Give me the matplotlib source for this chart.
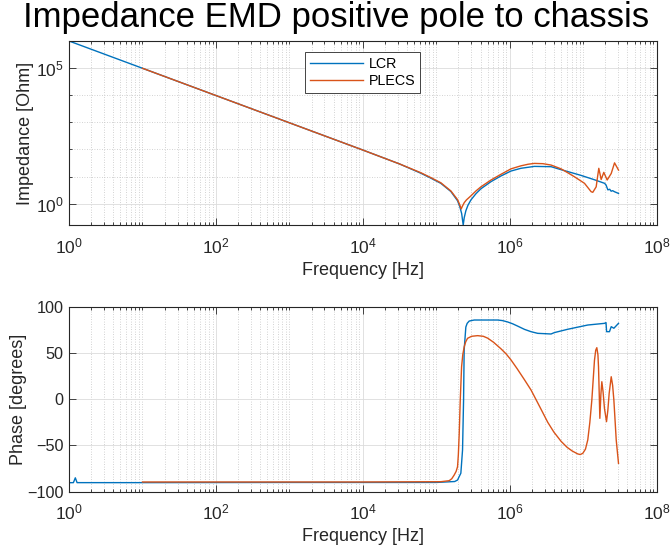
import numpy as np
import matplotlib
matplotlib.use("Agg")
import matplotlib.pyplot as plt
from matplotlib.ticker import FixedLocator, LogLocator, NullFormatter, FuncFormatter

plt.rcParams['font.family'] = ['Liberation Sans', 'DejaVu Sans']
plt.rcParams['mathtext.fontset'] = 'custom'
plt.rcParams['mathtext.rm'] = 'Liberation Sans'
plt.rcParams['mathtext.it'] = 'Liberation Sans'

# ---------------- measured data ----------------
# LCR meter: impedance magnitude
lcr_mag_freq = [1.0, 10.0, 100.0, 1e3, 1e4, 3.16e4, 6.15e4, 8.41e4, 1.151e5, 1.578e5,
                1.945e5, 2.089e5, 2.213e5, 2.323e5, 2.399e5, 2.523e5, 2.692e5, 2.958e5,
                3.467e5, 4.046e5, 5.546e5, 7.586e5, 1.038e6, 1.413e6, 2.163e6, 3.648e6,
                4.989e6, 6.152e6, 9.354e6, 1.422e7, 1.950e7, 2.042e7, 2.163e7, 2.291e7,
                2.399e7, 2.512e7, 2.667e7, 3.020e7]
lcr_mag = [9.55e5, 9.55e4, 9.55e3, 955, 95.5, 29.5, 13.5, 8.91, 5.75, 2.88,
           1.32, 0.794, 0.447, 0.170, 0.316, 0.562, 0.891, 1.413,
           2.399, 3.63, 6.61, 10.7, 16.2, 20.4, 24.0, 23.4,
           18.2, 15.5, 11.2, 7.76, 5.75, 5.01, 3.31, 3.47,
           2.95, 3.09, 2.82, 2.45]

# PLECS simulation: impedance magnitude
plecs_mag_freq = [10.0, 100.0, 1e3, 1e4, 3.16e4, 6.15e4, 8.41e4, 1.151e5, 1.578e5,
                  1.945e5, 2.065e5, 2.183e5, 2.265e5, 2.399e5, 2.570e5, 2.958e5,
                  3.467e5, 4.046e5, 5.546e5, 7.586e5, 1.038e6, 1.413e6, 1.778e6,
                  2.163e6, 2.818e6, 3.648e6, 4.989e6, 6.310e6, 7.586e6, 1.040e7,
                  1.282e7, 1.349e7, 1.500e7, 1.567e7, 1.629e7, 1.754e7, 1.905e7,
                  2.118e7, 2.404e7, 2.667e7, 3.020e7]
plecs_mag = [9.55e4, 9.55e3, 955, 95.5, 29.5, 14.1, 9.33, 6.03, 3.02,
             1.45, 1.0, 0.661, 0.832, 1.122, 1.413, 1.995,
             3.02, 4.27, 7.59, 12.3, 19.5, 25.1, 28.8,
             30.9, 30.2, 26.9, 19.5, 13.5, 10.0, 5.75,
             2.82, 2.69, 4.27, 10.0, 20.4, 7.94, 14.5,
             7.59, 13.2, 32.4, 17.6]

# LCR meter: phase
lcr_ph_freq = [1.0, 1.148, 1.219, 1.288, 10.0, 1e3, 1e5, 1.778e5, 1.945e5, 2.158e5,
               2.275e5, 2.350e5, 2.393e5, 2.523e5, 2.630e5, 2.805e5, 3.281e5, 6.839e5,
               7.943e5, 9.354e5, 1.096e6, 1.282e6, 1.585e6, 1.945e6, 2.399e6, 3.648e6,
               4.046e6, 6.152e6, 1.153e7, 1.945e7, 2.042e7, 2.080e7, 2.275e7, 2.404e7,
               2.612e7, 3.020e7]
lcr_ph = [-90.3, -90.2, -85.0, -90.2, -90.2, -90.0, -90.0, -89.0, -87.4, -80.0,
          -55.0, -1.0, 53.0, 78.0, 82.0, 84.5, 85.6, 85.6,
          85.0, 83.5, 81.5, 79.0, 75.5, 73.0, 71.2, 70.5,
          72.0, 75.6, 80.2, 82.0, 82.8, 73.0, 73.0, 78.4,
          76.7, 82.0]

# PLECS simulation: phase
plecs_ph_freq = [10.0, 1e4, 1.151e5, 1.496e5, 1.622e5, 1.750e5, 1.862e5, 1.945e5,
                 1.995e5, 2.051e5, 2.118e5, 2.208e5, 2.291e5, 2.399e5, 2.512e5,
                 2.661e5, 3.020e5, 3.648e5, 4.365e5, 5.000e5, 6.026e5, 7.586e5,
                 8.913e5, 1.038e6, 1.259e6, 1.585e6, 1.945e6, 2.163e6, 2.630e6,
                 3.289e6, 3.981e6, 4.989e6, 6.026e6, 7.079e6, 8.433e6, 9.120e6,
                 9.863e6, 1.072e7, 1.153e7, 1.230e7, 1.309e7, 1.422e7, 1.479e7,
                 1.531e7, 1.585e7, 1.614e7, 1.652e7, 1.683e7, 1.738e7, 1.791e7,
                 1.862e7, 1.945e7, 2.075e7, 2.163e7, 2.254e7, 2.404e7, 2.512e7,
                 2.612e7, 2.812e7, 3.020e7]
plecs_ph = [-89.5, -89.5, -89.2, -88.1, -86.0, -82.0, -78.0, -73.0,
            -60.0, -37.0, -1.0, 35.0, 48.0, 56.8, 62.0,
            65.8, 68.0, 68.7, 68.0, 66.0, 61.5, 54.5,
            49.0, 42.5, 33.0, 21.0, 10.0, 3.0, -10.0,
            -25.0, -35.5, -45.5, -52.0, -56.0, -59.2, -59.8,
            -58.5, -54.0, -44.0, -25.0, -1.0, 42.0, 53.0,
            55.7, 48.0, 35.0, 5.0, -20.7, 5.0, 18.9,
            8.0, -10.0, -24.3, -12.0, 6.3, 24.3, 15.0,
            -1.0, -44.1, -69.3]

series_names = ['LCR', 'PLECS']
blue = '#0072BD'
orange = '#D95319'
ink = '#262626'

fig = plt.figure(figsize=(6.72, 5.5), dpi=100)
W, H = 672.0, 550.0
ax1 = fig.add_axes([69 / W, 1 - 225 / H, 587.7 / W, 184 / H])
ax2 = fig.add_axes([69 / W, 1 - 491.7 / H, 587.7 / W, 185 / H])

ax1.loglog(lcr_mag_freq, lcr_mag, color=blue, lw=1.0, label=series_names[0])
ax1.loglog(plecs_mag_freq, plecs_mag, color=orange, lw=1.0, label=series_names[1])
ax2.semilogx(lcr_ph_freq, lcr_ph, color=blue, lw=1.0)
ax2.semilogx(plecs_ph_freq, plecs_ph, color=orange, lw=1.0)

def pow10(v, pos):
    return r'$10^{%d}$' % int(round(np.log10(v)))

for ax in (ax1, ax2):
    ax.set_xlim(1, 1e8)
    ax.xaxis.set_major_locator(FixedLocator([1e0, 1e2, 1e4, 1e6, 1e8]))
    ax.xaxis.set_major_formatter(FuncFormatter(pow10))
    ax.xaxis.set_minor_locator(LogLocator(base=10, subs=np.arange(1, 10), numticks=100))
    ax.xaxis.set_minor_formatter(NullFormatter())
    ax.grid(True, which='major', color='#dcdcdc', lw=0.6, ls='-')
    ax.grid(True, which='minor', axis='x', color='#c4c4c4', lw=0.6, ls=(0, (1, 2)))
    ax.set_axisbelow(True)
    for s in ax.spines.values():
        s.set_color(ink)
        s.set_linewidth(0.8)
    ax.tick_params(which='both', direction='in', top=True, right=True, color=ink,
                   labelcolor=ink, width=0.6)
    ax.tick_params(which='major', length=5, pad=8)
    ax.tick_params(which='minor', length=2.5)
    ax.tick_params(axis='y', which='major', pad=4)
    ax.set_xlabel('Frequency [Hz]', fontsize=13, color=ink, labelpad=4)

ax1.set_ylim(min(lcr_mag), max(lcr_mag))
ax1.yaxis.set_major_locator(FixedLocator([1e0, 1e5]))
ax1.yaxis.set_major_formatter(FuncFormatter(pow10))
ax1.yaxis.set_minor_locator(LogLocator(base=10, subs=(1.0,), numticks=100))
ax1.yaxis.set_minor_formatter(NullFormatter())
ax1.grid(True, which='minor', axis='y', color='#c4c4c4', lw=0.6, ls=(0, (1, 2)))
ax1.tick_params(labelsize=12.5)
ax1.set_ylabel('Impedance [Ohm]', fontsize=13, color=ink)
ax1.yaxis.set_label_coords(-0.059, 0.5)

ax2.set_ylim(-100, 100)
ax2.set_yticks([-100, -50, 0, 50, 100])
ax2.tick_params(axis='y', labelsize=11.7)
ax2.tick_params(axis='x', labelsize=12.5)
ax2.set_ylabel('Phase [degrees]', fontsize=13, color=ink)
ax2.yaxis.set_label_coords(-0.072, 0.5)

leg = ax1.legend(loc='upper center', bbox_to_anchor=(0.5, 1 - 10.7 / 184), borderaxespad=0,
                 prop={'size': 10.3}, frameon=True, fancybox=False, framealpha=1,
                 edgecolor=ink, handlelength=3.7, handletextpad=0.4,
                 labelspacing=0.2, borderpad=0.35)
leg.get_frame().set_linewidth(0.6)
for t in leg.get_texts():
    t.set_color('black')

fig.text(0.5, 1 - 18 / H, 'Impedance EMD positive pole to chassis', ha='center',
         va='center', fontsize=25, color='black')

fig.savefig('out.png', dpi=100)
